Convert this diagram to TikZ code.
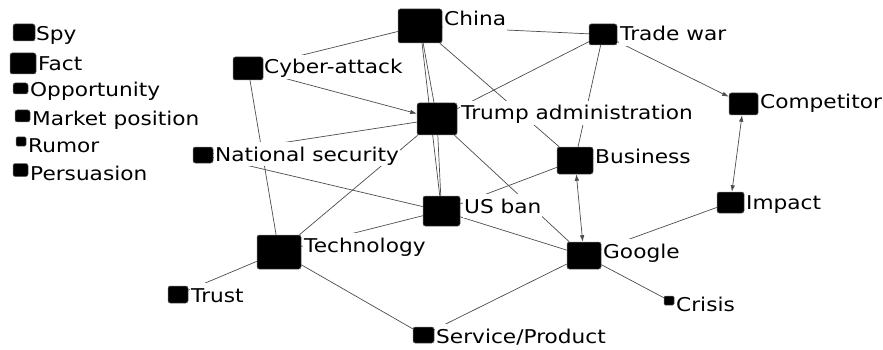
\documentclass[tikz,border=0pt]{standalone}
\usepackage{fontspec}
\setmainfont{DejaVu Sans}[FakeStretch=1.14]
\usetikzlibrary{backgrounds,arrows.meta}
\tikzset{
  sq/.style 2 args={draw=black!60, fill=black, rounded corners=2.2pt, line width=0.5pt, inner sep=0pt, minimum width=#1pt, minimum height=#2pt},
  lbl/.style={anchor=base west, fill=white, inner xsep=1pt, inner ysep=0pt, text height=19pt, text depth=5pt, font=\fontsize{19}{22}\selectfont},
  edge/.style={draw=black!70, line width=0.7pt},
  tip/.style={-{Latex[length=6.5pt,width=4.5pt]}},
  tips/.style={{Latex[length=6.5pt,width=4.5pt]}-{Latex[length=6.5pt,width=4.5pt]}},
}
\begin{document}
\begin{tikzpicture}[x=1pt,y=-1pt]
\useasboundingbox (0,0) rectangle (883,350);
% labels
\node[lbl] (spy-l) at (35,40.5) {Spy};
\node[lbl] (fact-l) at (37,71) {Fact};
\node[lbl] (opp-l) at (29,97) {Opportunity};
\node[lbl] (mkt-l) at (31,125) {Market position};
\node[lbl] (rum-l) at (27,153) {Rumor};
\node[lbl] (per-l) at (29,180) {Persuasion};
\node[lbl] (china-l) at (443,26) {China};
\node[lbl] (cyber-l) at (263,74) {Cyber-attack};
\node[lbl] (trump-l) at (460,120) {Trump administration};
\node[lbl] (ns-l) at (214,161) {National security};
\node[lbl] (trade-l) at (619,41) {Trade war};
\node[lbl] (comp-l) at (759,109) {Competitor};
\node[lbl] (bus-l) at (594,163) {Business};
\node[lbl] (usban-l) at (463,213) {US ban};
\node[lbl] (tech-l) at (303,252) {Technology};
\node[lbl] (trust-l) at (190,302) {Trust};
\node[lbl] (serv-l) at (435,343) {Service/Product};
\node[lbl] (google-l) at (602,258) {Google};
\node[lbl] (impact-l) at (745,209) {Impact};
\node[lbl] (crisis-l) at (675,311) {Crisis};
% squares
\node[sq={22}{17}] (spy) at (24,32.5) {};
\node[sq={26}{21}] (fact) at (23,63.5) {};
\node[sq={15}{11}] (opp) at (20.5,88.5) {};
\node[sq={15}{12}] (mkt) at (22.5,116) {};
\node[sq={10}{9},rounded corners=1.2pt] (rum) at (21,141.5) {};
\node[sq={15}{13}] (per) at (20.5,170) {};
\node[sq={44}{34}] (china) at (420,26) {};
\node[sq={30}{23}] (cyber) at (248,68.5) {};
\node[sq={40}{32}] (trump) at (437,119) {};
\node[sq={20}{16}] (ns) at (203,155) {};
\node[sq={28}{21}] (trade) at (603,34.5) {};
\node[sq={29}{22}] (comp) at (743.5,104) {};
\node[sq={36}{27}] (bus) at (575,160.5) {};
\node[sq={37}{30}] (usban) at (441.5,211) {};
\node[sq={44}{34}] (tech) at (279,252) {};
\node[sq={20}{17}] (trust) at (178,294.5) {};
\node[sq={21}{16}] (serv) at (423.5,335) {};
\node[sq={34}{27}] (google) at (584,255.5) {};
\node[sq={27}{21}] (impact) at (730.5,202.5) {};
\node[sq={10}{9},rounded corners=1.2pt] (crisis) at (669,300.5) {};
% edges
\begin{scope}[on background layer]
\draw[edge] (china) -- (cyber);
\draw[edge] (china) -- (trade);
\draw[edge] (china) -- (trump);
\draw[edge] (china) -- (usban);
\draw[edge] (china) -- (bus);
\draw[edge] (trade) -- (trump);
\draw[edge] (trade) -- (bus);
\draw[edge,tip] (trade) -- (comp);
\draw[edge,tip] (cyber) -- (trump);
\draw[edge] (cyber) -- (tech);
\draw[edge] (trump) -- (ns);
\draw[edge] (trump) -- (tech);
\draw[edge] (trump) -- (google);
\draw[edge] (trump) -- (usban);
\draw[edge] (ns) -- (usban);
\draw[edge] (usban) -- (bus);
\draw[edge] (usban) -- (tech);
\draw[edge] (usban) -- (google);
\draw[edge,tips] (bus) -- (google);
\draw[edge,tips] (comp) -- (impact);
\draw[edge] (impact) -- (google);
\draw[edge] (tech) -- (trust);
\draw[edge] (tech) -- (serv);
\draw[edge] (google) -- (serv);
\draw[edge] (google) -- (crisis);
\end{scope}
\end{tikzpicture}
\end{document}
